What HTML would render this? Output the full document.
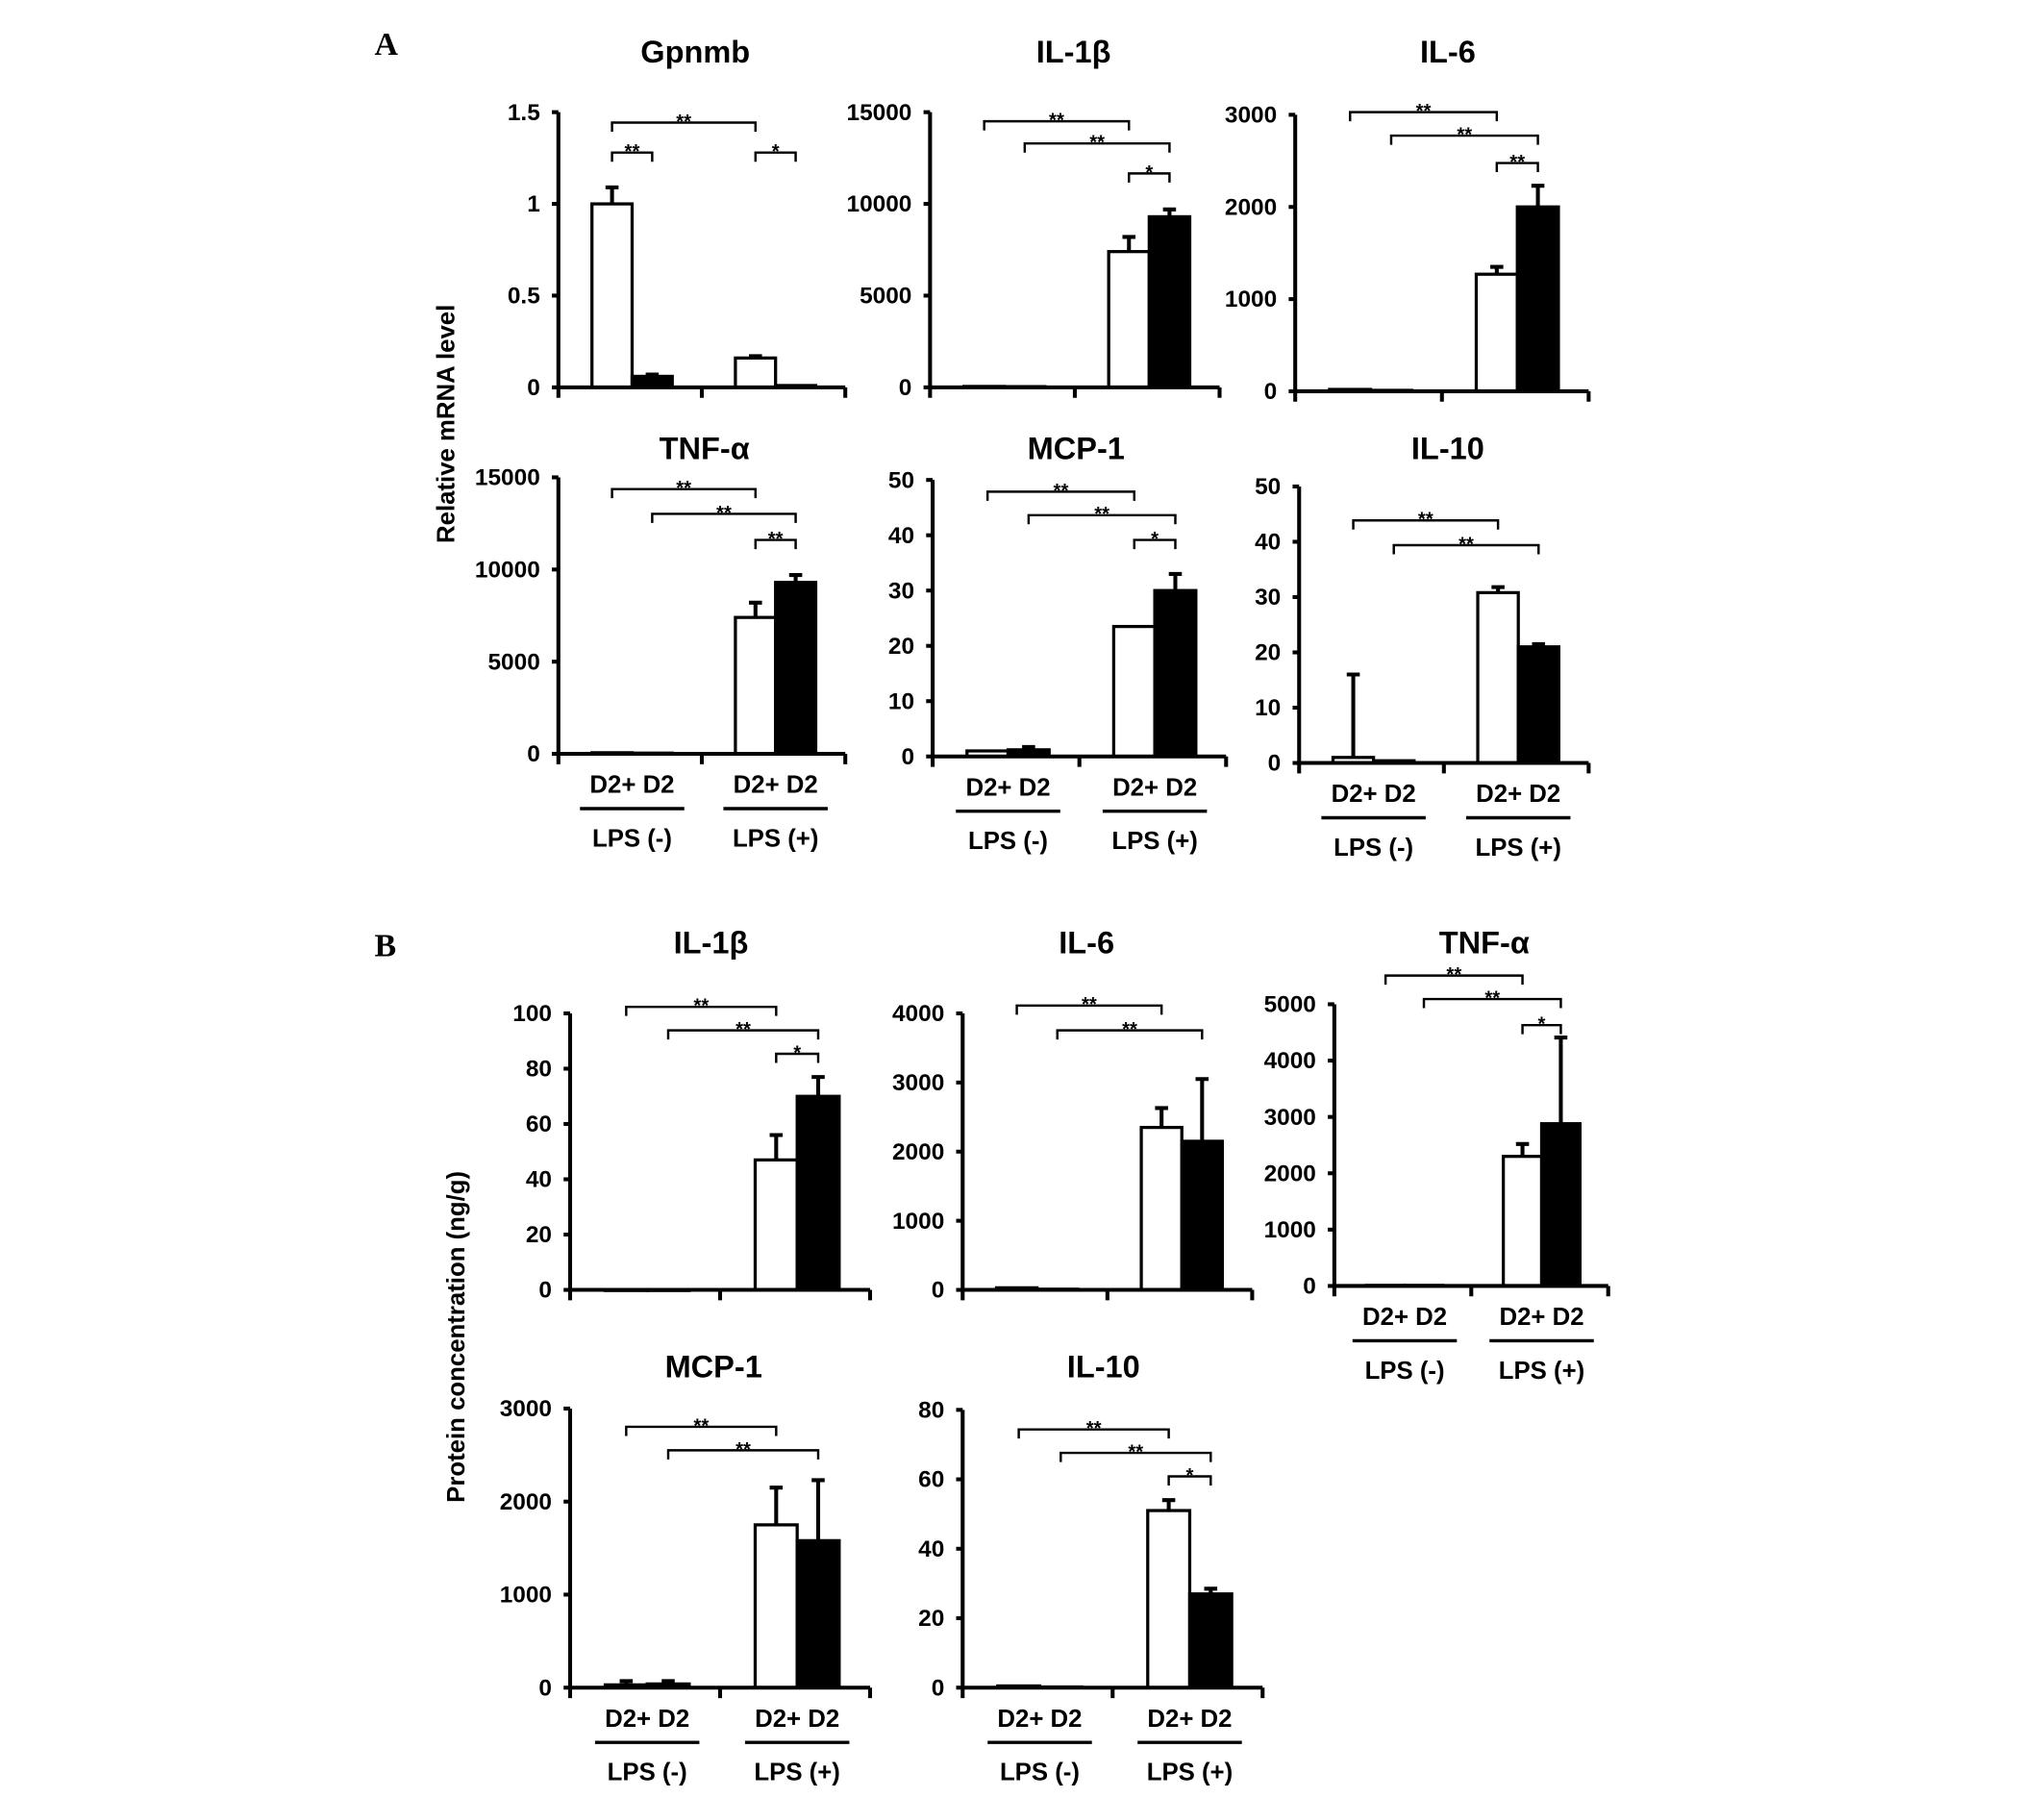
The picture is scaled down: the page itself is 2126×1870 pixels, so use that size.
<!DOCTYPE html>
<html><head><meta charset="utf-8">
<style>
html,body{margin:0;padding:0;background:#fff;}
svg{display:block;}
text{font-family:"Liberation Sans",Arial,sans-serif;fill:#000;}
text.serif{font-family:"Liberation Serif","DejaVu Serif",serif;}
</style></head>
<body>
<svg id="fig" width="2126" height="1870" viewBox="0 0 1567 1378.6" xmlns="http://www.w3.org/2000/svg">
<text class="serif" x="287" y="42" font-weight="bold" font-size="25">A</text>
<text class="serif" x="287" y="733" font-weight="bold" font-size="25">B</text>
<text transform="translate(348,325) rotate(-90)" text-anchor="middle" font-size="19" font-weight="bold">Relative mRNA level</text>
<text transform="translate(356,1025) rotate(-90)" text-anchor="middle" font-size="19" font-weight="bold">Protein concentration (ng/g)</text>
</svg>
<script>
// Data per panel: titles, maxima, tick labels, white/black values and errors, brackets
const panelTitles = ["Gpnmb","IL-1β","IL-6","TNF-α","MCP-1","IL-10","IL-1β","IL-6","TNF-α","MCP-1","IL-10"];
const panelMax = [1.5,15000,3000,15000,50,50,100,4000,5000,3000,80];
const tickLabels = [
 ["0","0.5","1","1.5"],["0","5000","10000","15000"],["0","1000","2000","3000"],
 ["0","5000","10000","15000"],["0","10","20","30","40","50"],["0","10","20","30","40","50"],
 ["0","20","40","60","80","100"],["0","1000","2000","3000","4000"],["0","1000","2000","3000","4000","5000"],
 ["0","1000","2000","3000"],["0","20","40","60","80"]];
const whiteValues = [[1,0.16],[50,7400],[20,1270],[60,7400],[1,23.5],[1,30.8],[0,47],[30,2350],[10,2300],[30,1750],[0.5,51]];
const blackValues = [[0.06,0.01],[40,9300],[10,2000],[40,9300],[1.2,30],[0.4,21],[0,70],[10,2150],[10,2880],[40,1580],[0.2,27]];
const whiteErrors = [[0.09,0.01],[0,800],[0,80],[0,800],[0,0],[15,1],[0,9],[0,280],[0,220],[40,400],[0,3]];
const blackErrors = [[0.01,0],[0,400],[0,230],[0,400],[0.5,3],[0,0.5],[0,7],[0,900],[0,1530],[30,650],[0,1.5]];
// brackets: [fromBar, toBar, label]; bars 0=w1 1=b1 2=w2 3=b2
const bracketSets = [
 [[0,2,"**"],[0,1,"**"],[2,3,"*"]],
 [[0,2,"**"],[1,3,"**"],[2,3,"*"]],
 [[0,2,"**"],[1,3,"**"],[2,3,"**"]],
 [[0,2,"**"],[1,3,"**"],[2,3,"**"]],
 [[0,2,"**"],[1,3,"**"],[2,3,"*"]],
 [[0,2,"**"],[1,3,"**"]],
 [[0,2,"**"],[1,3,"**"],[2,3,"*"]],
 [[0,2,"**"],[1,3,"**"]],
 [[0,2,"**"],[1,3,"**"],[2,3,"*"]],
 [[0,2,"**"],[1,3,"**"]],
 [[0,2,"**"],[1,3,"**"],[2,3,"*"]]];
const groupLabels = ["D2+ D2","D2+ D2"];
const lpsLabels = ["LPS (-)","LPS (+)"];

// layout (not data)
const layout = [
 {x:428,top:86,bot:297,w:220,tx:533,ty:48,bk:[94,117,117],cat:false},
 {x:713,top:86,bot:297,w:222,tx:823,ty:48,bk:[93,110,133],cat:false},
 {x:993,top:88,bot:300,w:225,tx:1110,ty:48,bk:[86,104,125],cat:false},
 {x:428,top:366,bot:578,w:220,tx:540,ty:352,bk:[375,394,414],cat:true},
 {x:715,top:368,bot:580,w:225,tx:825,ty:352,bk:[377,395,414],cat:true},
 {x:996,top:373,bot:585,w:222,tx:1110,ty:352,bk:[399,418],cat:true},
 {x:437,top:777,bot:989,w:230,tx:545,ty:731,bk:[772,790,808],cat:false},
 {x:738,top:777,bot:989,w:222,tx:833,ty:731,bk:[771,790],cat:false},
 {x:1023,top:770,bot:986,w:210,tx:1138,ty:731,bk:[748,766,786],cat:true},
 {x:437,top:1080,bot:1294,w:230,tx:547,ty:1056,bk:[1094,1112],cat:true},
 {x:738,top:1081,bot:1294,w:230,tx:846,ty:1056,bk:[1096,1114,1132],cat:true}];

const NS="http://www.w3.org/2000/svg";
const svg=document.getElementById('fig');
function mk(tag,attrs,parent){const e=document.createElementNS(NS,tag);for(const k in attrs)e.setAttribute(k,attrs[k]);(parent||svg).appendChild(e);return e;}

panelTitles.forEach((title,p)=>{
  const L=layout[p];
  const g=mk('g',{});
  
  
  const yS=v=>L.bot-(v/panelMax[p])*(L.bot-L.top);
  const bw=L.w*0.14;
  const barX=i=>{const gc=L.x+L.w*(i<2?0.257:0.757);return (i%2==0)?gc-bw:gc;};
  const t=mk('text',{x:L.tx,y:L.ty,'text-anchor':'middle','font-size':24,'font-weight':'bold'},g);
  t.textContent=title;
  
  
  for(let i=0;i<4;i++){
    const grp=i>>1, white=i%2==0;
    const v=white?whiteValues[p][grp]:blackValues[p][grp];
    const e=white?whiteErrors[p][grp]:blackErrors[p][grp];
    const x=barX(i), y=yS(v);
    const r=mk('rect',{x:x,y:y,width:bw,height:Math.max(0.5,L.bot-y),fill:white?'#fff':'#000',stroke:'#000','stroke-width':2.4},g);
    
    
    if(e>0){
      const ye=yS(v+e), cx=x+bw/2;
      const eb=mk('path',{d:`M${cx},${y}V${ye}M${cx-5},${ye}H${cx+5}`,stroke:'#000','stroke-width':3,fill:'none'},g);
      
      
    }
  }
  const ax=mk('path',{d:`M${L.x},${L.top}V${L.bot}H${L.x+L.w}M${L.x+L.w/2},${L.bot}v8M${L.x+L.w},${L.bot}v8M${L.x},${L.bot}v8`,stroke:'#000','stroke-width':3,fill:'none'},g);
  
  
  tickLabels[p].forEach(lbl=>{
    const y=yS(parseFloat(lbl));
    mk('path',{d:`M${L.x-5},${y}H${L.x}`,stroke:'#000','stroke-width':3},g);
    const tl=mk('text',{x:L.x-14,y:y+6,'text-anchor':'end','font-size':18,'font-weight':'bold'},g);
    tl.textContent=lbl;
    
    
  });
  bracketSets[p].forEach((b,k)=>{
    const y=L.bk[k];
    const x1=barX(b[0])+bw/2, x2=barX(b[1])+bw/2;
    const br=mk('path',{d:`M${x1},${y+7}V${y}H${x2}V${y+7}`,stroke:'#000','stroke-width':1.8,fill:'none'},g);
    
    
    const st=mk('text',{x:(x1+x2)/2,y:y+4,'text-anchor':'middle','font-size':15,'font-weight':'bold'},g);
    st.textContent=b[2];
    
    
  });
  if(L.cat){
    for(let grp=0;grp<2;grp++){
      const gc=L.x+L.w*(grp?0.757:0.257);
      const cl=mk('text',{x:gc,y:L.bot+30,'text-anchor':'middle','font-size':19,'font-weight':'bold'},g);
      cl.textContent=groupLabels[grp];
      
      
      mk('path',{d:`M${gc-40},${L.bot+42}H${gc+40}`,stroke:'#000','stroke-width':2.5},g);
      const ll=mk('text',{x:gc,y:L.bot+71,'text-anchor':'middle','font-size':19,'font-weight':'bold'},g);
      ll.textContent=lpsLabels[grp];
      
      
    }
  }
});
</script>
</body></html>
